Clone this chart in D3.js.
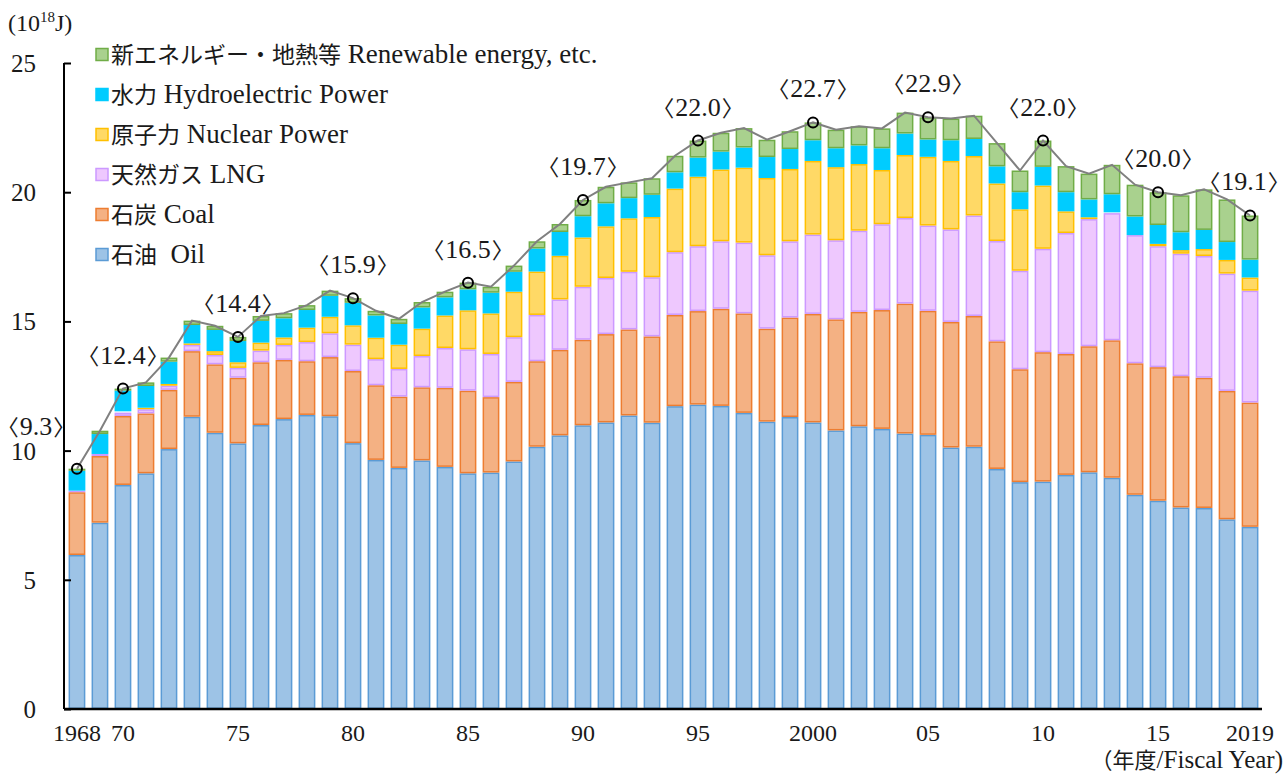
<!DOCTYPE html>
<html><head><meta charset="utf-8">
<script src="https://cdn.jsdelivr.net/npm/d3@7"></script>
<style>
body{margin:0;background:#fff;}
svg text{font-family:"Liberation Serif","Noto Sans CJK JP",serif;fill:#1a1a1a;}
.cjk{font-family:"Noto Sans CJK JP",sans-serif;}
.br{font-family:"Noto Sans CJK JP",sans-serif;font-feature-settings:"halt" 1;}
</style></head><body>
<svg id="c" width="1285" height="776"></svg>
<script>
const years = d3.range(1968, 2020);
const oil = [5.96,7.21,8.67,9.12,10.06,11.31,10.69,10.28,10.99,11.22,11.38,11.33,10.29,9.64,9.33,9.62,9.37,9.12,9.15,9.58,10.15,10.59,10.98,11.09,11.36,11.08,11.72,11.78,11.73,11.46,11.12,11.30,11.09,10.78,10.94,10.84,10.66,10.61,10.12,10.15,9.29,8.78,8.80,9.06,9.16,8.95,8.29,8.06,7.80,7.78,7.34,7.05];
const coal = [2.43,2.58,2.67,2.32,2.29,2.54,2.65,2.54,2.43,2.29,2.08,2.29,2.79,2.89,2.76,2.83,3.06,3.20,2.92,3.08,3.31,3.31,3.31,3.42,3.33,3.34,3.53,3.62,3.76,3.85,3.60,3.85,4.20,4.30,4.43,4.60,5.03,4.80,4.86,5.06,4.94,4.37,5.01,4.68,4.88,5.32,5.09,5.17,5.08,5.04,4.97,4.81];
const lng = [0.06,0.08,0.13,0.16,0.16,0.24,0.36,0.38,0.45,0.58,0.74,0.92,1.02,1.01,1.07,1.21,1.54,1.60,1.67,1.73,1.79,1.95,2.05,2.17,2.23,2.29,2.43,2.51,2.61,2.74,2.84,2.95,3.07,3.06,3.14,3.32,3.31,3.30,3.58,3.89,3.88,3.81,4.00,4.68,4.92,4.92,4.96,4.68,4.74,4.71,4.54,4.33];
const nuclear = [0,0,0.05,0.06,0.07,0.06,0.15,0.22,0.31,0.29,0.56,0.64,0.75,0.83,0.94,1.06,1.26,1.51,1.57,1.76,1.68,1.69,1.91,2.00,2.07,2.33,2.46,2.69,2.78,2.90,2.99,2.80,2.85,2.83,2.58,2.10,2.44,2.66,2.65,2.30,2.23,2.38,2.45,0.84,0.07,0.03,0,0.09,0.14,0.27,0.53,0.51];
const hydro = [0.77,0.77,0.80,0.84,0.86,0.71,0.82,0.82,0.84,0.74,0.68,0.81,0.87,0.86,0.80,0.82,0.70,0.81,0.80,0.77,0.89,0.92,0.82,0.89,0.78,0.86,0.63,0.74,0.69,0.78,0.81,0.77,0.80,0.73,0.72,0.84,0.83,0.67,0.80,0.66,0.66,0.66,0.72,0.74,0.69,0.70,0.72,0.73,0.69,0.74,0.69,0.69];
const renew = [0.08,0.13,0.08,0.14,0.16,0.17,0.16,0.16,0.19,0.20,0.19,0.20,0.18,0.18,0.20,0.21,0.22,0.26,0.23,0.24,0.28,0.31,0.63,0.64,0.61,0.64,0.64,0.66,0.73,0.75,0.67,0.69,0.69,0.72,0.74,0.77,0.81,0.86,0.84,0.90,0.90,0.84,1.02,1.01,1.00,1.14,1.23,1.27,1.43,1.57,1.65,1.71];
const labelYears = [1968,1970,1975,1980,1985,1990,1995,2000,2005,2010,2015,2019];
const labelTexts = ["9.3","12.4","14.4","15.9","16.5","19.7","22.0","22.7","22.9","22.0","20.0","19.1"];
const tickYears = [1968,1970,1975,1980,1985,1990,1995,2000,2005,2010,2015,2019];
const tickTexts = ["1968","70","75","80","85","90","95","2000","05","10","15","2019"];
const seriesKeys = ["oil","coal","lng","nuclear","hydro","renew"];
const seriesJa = {oil:"石油",coal:"石炭",lng:"天然ガス",nuclear:"原子力",hydro:"水力",renew:"新エネルギー・地熱等"};
const seriesEn = {oil:"\u00a0\u00a0Oil",coal:" Coal",lng:" LNG",nuclear:" Nuclear Power",hydro:" Hydroelectric Power",renew:" Renewable energy, etc."};
const fills = {oil:"#9DC3E6",coal:"#F4B183",lng:"#EEC8FE",nuclear:"#FFD966",hydro:"#00CCFF",renew:"#A9D18E"};
const strokes = {oil:"#5B9BD5",coal:"#ED7D31",lng:"#CC99FF",nuclear:"#FFC000",hydro:"#00CCFF",renew:"#70AD47"};

const rows = years.map((y,i)=>({year:y,oil:oil[i],coal:coal[i],lng:lng[i],nuclear:nuclear[i],hydro:hydro[i],renew:renew[i]}));
const svg = d3.select("#c");
const x = d3.scaleBand().domain(years).range([65,1262]).paddingInner(0.27).paddingOuter(0.155);
const y = d3.scaleLinear().domain([0,25]).range([709,63]);

const stack = d3.stack().keys(seriesKeys)(rows);
svg.append("g").selectAll("g").data(stack).join("g")
  .attr("fill",d=>fills[d.key]).attr("stroke",d=>strokes[d.key]).attr("stroke-width",1.5)
  .selectAll("rect").data(d=>d.filter(p=>p[1]-p[0]>0)).join("rect")
  .attr("x",d=>x(d.data.year)+0.75).attr("width",x.bandwidth()-1.5)
  .attr("y",d=>y(d[1])+0.75).attr("height",d=>Math.max(0,y(d[0])-y(d[1])-1.5));

// total line
const totals = stack[stack.length-1].map(p=>({year:p.data.year,v:p[1]}));
svg.append("path").datum(totals).attr("fill","none").attr("stroke","#808080").attr("stroke-width",2)
  .attr("d",d3.line().x(d=>x(d.year)+x.bandwidth()/2).y(d=>y(d.v)));
const lab = totals.filter(d=>labelYears.includes(d.year));
svg.append("g").selectAll("circle").data(lab).join("circle")
  .attr("cx",d=>x(d.year)+x.bandwidth()/2).attr("cy",d=>y(d.v)).attr("r",5)
  .attr("fill","none").attr("stroke","#000").attr("stroke-width",2);
const lt = svg.append("g").selectAll("text").data(lab).join("text")
  .attr("x",d=>{const cx=x(d.year)+x.bandwidth()/2; return d.year===1968?cx-41:(d.year===2019?cx-6:cx);})
  .attr("y",d=>y(d.v)-(d.year===1968?34:25))
  .attr("text-anchor","middle").attr("font-size",26);
lt.append("tspan").attr("class","br").attr("font-size",22).text("〈");
lt.append("tspan").attr("dx",1).text(d=>labelTexts[labelYears.indexOf(d.year)]);
lt.append("tspan").attr("class","br").attr("font-size",22).attr("dx",1).text("〉");

// y axis
const ya = svg.append("g").attr("transform","translate(64,0)")
  .call(d3.axisRight(y).tickValues([0,5,10,15,20,25]).tickSize(7).tickFormat(""));
ya.select(".domain").attr("stroke","#000").attr("stroke-width",2).attr("d","M0,63V709");
ya.selectAll(".tick line").attr("stroke","#000").attr("stroke-width",2);
svg.append("g").selectAll("text").data([0,5,10,15,20,25]).join("text")
  .attr("x",36).attr("y",d=>y(d)+9).attr("text-anchor","end").attr("font-size",25).text(d=>d);

// x axis
const xa = svg.append("g").attr("transform","translate(0,709)")
  .call(d3.axisBottom(x).tickValues(tickYears).tickSize(0).tickPadding(15)
    .tickFormat(d=>tickTexts[tickYears.indexOf(d)]));
xa.select(".domain").attr("stroke","#000").attr("stroke-width",2.5).attr("d","M64,0H1262");
xa.selectAll("text").attr("font-size",24).attr("fill","#1a1a1a").attr("font-family","Liberation Serif");

// unit labels
const u = svg.append("text").attr("x",8).attr("y",31).attr("font-size",24);
u.append("tspan").text("(10");
u.append("tspan").attr("font-size",15).attr("dy",-9).text("18");
u.append("tspan").attr("dy",9).text("J)");
const xt = svg.append("text").attr("x",1283).attr("y",768).attr("text-anchor","end").attr("font-size",25);
xt.append("tspan").attr("class","cjk").attr("font-size",22).text("（年度");
xt.append("tspan").text("/Fiscal Year)");

// legend
const legOrder = ["renew","hydro","nuclear","lng","coal","oil"];
const lg = svg.append("g").selectAll("g").data(legOrder).join("g")
  .attr("transform",(d,i)=>`translate(96,${55+i*40})`);
lg.append("rect").attr("x",0).attr("y",-6.5).attr("width",12).attr("height",12)
  .attr("fill",d=>fills[d]).attr("stroke",d=>strokes[d]).attr("stroke-width",1.5);
const ltx = lg.append("text").attr("x",15).attr("y",8).attr("font-size",27);
ltx.append("tspan").attr("class","cjk").attr("font-size",23).text(d=>seriesJa[d]);
ltx.append("tspan").text(d=>seriesEn[d]);
</script></body></html>
